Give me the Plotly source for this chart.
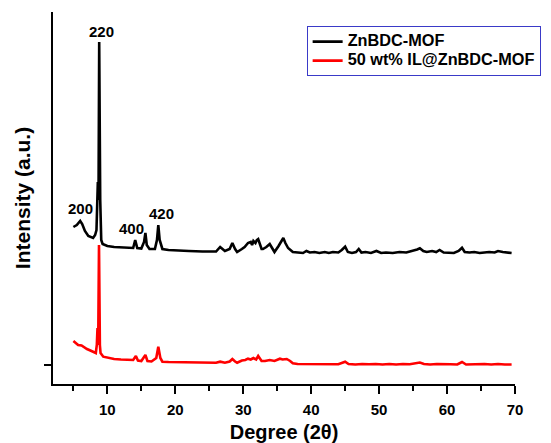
import plotly.graph_objects as go

# 2-theta positions (degrees) and intensities (a.u.)
black_x = [5.0, 5.5, 6.0, 6.3, 6.7, 7.2, 7.9, 8.2, 8.4, 8.5, 8.6, 8.7, 8.8, 8.95, 9.1, 9.3, 10.0, 11.0, 12.0, 13.0,
           13.8, 14.1, 14.4, 15.0, 15.4, 15.6, 15.8, 16.2, 17.0, 17.3, 17.5, 17.7, 18.1, 19.0, 20.0, 22.0, 24.0,
           26.0, 26.6, 27.3, 28.0, 28.4, 28.8, 29.1, 29.8, 30.2, 30.7, 31.1, 31.3, 31.5, 31.8, 32.0, 32.2, 32.4,
           32.7, 32.9, 33.4, 33.9, 34.3, 34.6, 35.2, 35.9, 36.2, 36.6, 37.3, 38.0, 38.8, 39.3, 39.8, 40.5, 41.2,
           42.0, 42.6, 43.2, 44.0, 44.5, 45.0, 45.4, 46.0, 46.6, 47.0, 47.4, 48.0, 48.8, 49.6, 50.3, 51.0, 52.0,
           53.0, 54.0, 55.0, 55.6, 56.0, 56.5, 57.0, 57.8, 58.4, 58.9, 59.5, 60.3, 61.0, 61.7, 62.2, 62.6, 63.3,
           64.0, 64.8, 65.5, 66.2, 67.0, 67.5, 68.2, 69.0, 69.5]
black_y = [138, 140, 144, 141, 134, 129, 127, 130, 135, 165, 183, 165, 323, 165, 125, 121, 119, 118, 117.5, 117,
           117, 125, 117, 116.5, 123, 132, 120, 116, 116, 125, 140, 125, 116, 115, 114.5, 114, 113.5,
           113.5, 118, 114, 116, 122, 116, 113, 116, 118, 122, 123, 120, 124, 122, 125, 126, 122,
           116, 116, 118, 121, 116, 113, 119, 127, 122, 117, 113, 112.5, 112, 114, 112.5, 113, 112,
           113, 112, 113, 112.5, 115, 118.3, 113, 112, 113, 116, 112.5, 113, 112, 114, 112, 112.5, 112,
           113, 112.5, 114, 115.5, 116.7, 114, 113, 114, 113, 115, 112.5, 112, 112, 114, 117.3, 113, 112.5,
           113, 112, 112.5, 113, 112.5, 114, 113, 112, 112]

red_x = [5.0, 5.4, 5.7, 6.2, 6.5, 7.0, 7.5, 7.9, 8.3, 8.45, 8.55, 8.65, 8.77, 8.9, 9.0, 9.4, 10.0, 11.0, 12.0, 13.0,
         13.8, 14.2, 14.5, 15.0, 15.3, 15.6, 15.9, 16.5, 17.2, 17.5, 17.8, 18.1, 19.0, 20.0, 22.0, 24.0, 26.0,
         26.6, 27.3, 28.0, 28.4, 28.8, 29.1, 29.8, 30.3, 30.7, 31.1, 31.5, 31.9, 32.2, 32.5, 32.7, 33.2, 33.9,
         34.6, 35.4, 35.8, 36.4, 36.9, 37.3, 38.0, 39.0, 40.0, 41.0, 42.0, 43.0, 44.0, 45.0, 45.5, 46.5, 47.5,
         48.5, 49.5, 50.5, 51.5, 52.5, 53.5, 54.5, 55.3, 56.0, 56.6, 57.5, 58.5, 59.5, 60.5, 61.5, 62.2, 62.8,
         63.5, 64.5, 65.5, 66.5, 67.5, 68.5, 69.5]
red_y = [24, 22, 20, 19.5, 18, 16, 14.5, 13, 12, 20, 37, 20, 120, 20, 12, 8.3, 7.5, 6, 5.5, 5,
         5, 9, 4.5, 4, 7, 10, 4, 3.5, 7, 18.3, 7, 3.3, 3, 3, 2.5, 2.5, 2.3,
         3.3, 2.3, 3.5, 6, 3.5, 2.3, 4.5, 5, 6.3, 5.5, 7, 5.5, 9, 5.5, 4, 4, 5,
         4, 6.3, 5.5, 6, 4, 1.7, 1, 1, 0.5, 1, 0.5, 1, 0.7, 3.3, 1, 0.5, 1,
         0.7, 1, 0.5, 1, 0.5, 1, 0.7, 1.5, 2.5, 1, 0.5, 1, 0.5, 0.7, 0.5, 3, 0.5,
         0.7, 0.5, 1, 0.5, 1, 0.5, 0.5]

series_names = ["ZnBDC-MOF", "50 wt% IL@ZnBDC-MOF"]

peak_labels = ["200", "220", "400", "420"]
peak_label_x = [6.0, 9.2, 13.6, 18.0]
peak_label_y = [157, 334, 137, 152]

x_tick_vals = [10, 20, 30, 40, 50, 60, 70]
x_tick_text = ["10", "20", "30", "40", "50", "60", "70"]
x_minor_vals = [5, 15, 25, 35, 45, 55, 65]

FONT = "Arial, 'Liberation Sans', sans-serif"


def legend_name(s):
    return '<span style="font-size:16.3px">' + s + '</span>'


fig = go.Figure()
fig.add_trace(go.Scatter(x=black_x, y=black_y, mode="lines", name=legend_name(series_names[0]),
                         line=dict(color="black", width=2.6)))
fig.add_trace(go.Scatter(x=red_x, y=red_y, mode="lines", name=legend_name(series_names[1]),
                         line=dict(color="#ff0000", width=2.6)))

for t, ax, ay in zip(peak_labels, peak_label_x, peak_label_y):
    fig.add_annotation(x=ax, y=ay, text=t, showarrow=False,
                       font=dict(family=FONT, size=15, color="black", weight="bold"))

# the page body adds an 8px margin, so the figure is 8px smaller and margins shifted
fig.update_layout(
    width=543, height=435,
    margin=dict(l=45, r=36, t=4, b=59, autoexpand=False),
    paper_bgcolor="white", plot_bgcolor="white",
    font=dict(family=FONT, color="black"),
    showlegend=True,
    legend=dict(x=0.549, y=0.962, xanchor="left", yanchor="top",
                bgcolor="white", bordercolor="#3a3ac8", borderwidth=1,
                font=dict(family=FONT, size=12, color="black", weight="bold"),
                tracegroupgap=0, itemwidth=30),
)
fig.update_xaxes(range=[2, 70], showline=True, linecolor="black", linewidth=2,
                 showgrid=False, zeroline=False, automargin=False,
                 tickmode="array", tickvals=x_tick_vals, ticktext=x_tick_text,
                 ticks="outside", ticklen=8, tickwidth=2, tickcolor="black",
                 ticklabelstandoff=3,
                 minor=dict(tickvals=x_minor_vals, ticks="outside", ticklen=5,
                            tickwidth=2, tickcolor="black"),
                 tickfont=dict(family=FONT, size=15, color="black", weight="bold"),
                 title=dict(text="Degree (2θ)", standoff=11,
                            font=dict(family=FONT, size=20, color="black", weight="bold")))
fig.update_yaxes(range=[-19, 353], showline=True, linecolor="black", linewidth=2,
                 showgrid=False, zeroline=False, automargin=False,
                 tickmode="array", tickvals=[0], ticktext=[""],
                 ticks="outside", ticklen=7, tickwidth=2, tickcolor="black",
                 title=dict(text="Intensity (a.u.)", standoff=5,
                            font=dict(family=FONT, size=21, color="black", weight="bold")))

fig.write_html("out.html")
